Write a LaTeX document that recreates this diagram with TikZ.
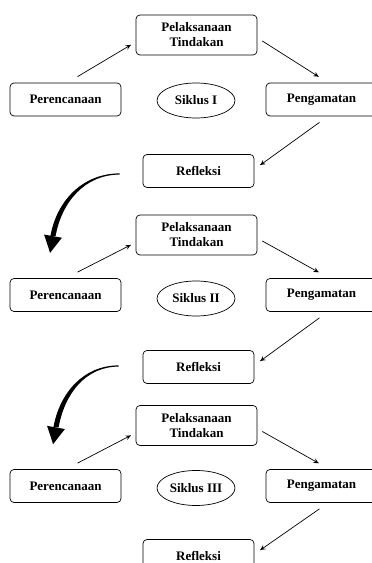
\documentclass[tikz,border=0pt]{standalone}
\usepackage{fontspec}
\setmainfont{Liberation Serif}
\usetikzlibrary{shapes.geometric,
                 decorations.markings}
\newcommand{\lbl}{\fontsize{13}{15}\selectfont\bfseries}
\tikzset{box/.style = {draw, rounded corners = 4, minimum width = 111, minimum height = 33, inner sep = 2, font = \lbl, line width = 0.7}}
\tikzset{act/.style = {box, minimum width = 121, minimum height = 40, align = center}}
\tikzset{cyc/.style = {draw, ellipse, minimum width = 78, minimum height = 35, inner sep = 0, font = \lbl, line width = 0.7}}
\tikzset{flow/.style = {line width = 0.7, decoration={markings, mark=at position 1 with {\arrow[scale=1.3]{stealth}}}, postaction={decorate}}}

\begin{document}
\begin{tikzpicture}[x = 1pt, y = 1pt]
    \useasboundingbox (0,0) rectangle (372,563);
    % siklus I
    \node [act] (pel1) at (196.5,528) {Pelaksanaan\\Tindakan};
    \node [box] (ren1) at (65.5,463.5) {Perencanaan};
    \node [cyc] (sik1) at (196,462.5) {Siklus I};
    \node [box] (pen1) at (321.5,463.5) {Pengamatan};
    \node [box] (ref1) at (198.5,392) {Refleksi};
    \draw [flow] ([xshift=12pt,yshift=6pt]ren1.north) -- ([xshift=-5pt,yshift=-10pt]pel1.west);
    \draw [flow] ([xshift=5pt,yshift=-6pt]pel1.east) -- ([xshift=-3pt,yshift=6pt]pen1.north);
    \draw [flow] ([xshift=-2pt,yshift=-6pt]pen1.south) -- ([xshift=6pt,yshift=6pt]ref1.east);
    % siklus II
    \node [act] (pel2) at (196.5,328) {Pelaksanaan\\Tindakan};
    \node [box] (ren2) at (65.5,268) {Perencanaan};
    \node [cyc] (sik2) at (196,264.5) {Siklus II};
    \node [box] (pen2) at (321.5,268) {Pengamatan};
    \node [box] (ref2) at (198.5,196) {Refleksi};
    \draw [flow] ([xshift=12pt,yshift=6pt]ren2.north) -- ([xshift=-5pt,yshift=-10pt]pel2.west);
    \draw [flow] ([xshift=5pt,yshift=-6pt]pel2.east) -- ([xshift=-3pt,yshift=6pt]pen2.north);
    \draw [flow] ([xshift=-2pt,yshift=-6pt]pen2.south) -- ([xshift=6pt,yshift=6pt]ref2.east);
    % siklus III
    \node [act] (pel3) at (196.5,137.5) {Pelaksanaan\\Tindakan};
    \node [box] (ren3) at (65.5,77) {Perencanaan};
    \node [cyc] (sik3) at (196,75) {Siklus III};
    \node [box] (pen3) at (321.5,77) {Pengamatan};
    \node [box] (ref3) at (198.5,7) {Refleksi};
    \draw [flow] ([xshift=12pt,yshift=6pt]ren3.north) -- ([xshift=-5pt,yshift=-10pt]pel3.west);
    \draw [flow] ([xshift=5pt,yshift=-6pt]pel3.east) -- ([xshift=-3pt,yshift=6pt]pen3.north);
    \draw [flow] ([xshift=-2pt,yshift=-6pt]pen3.south) -- ([xshift=6pt,yshift=6pt]ref3.east);
    % ke siklus berikutnya
    \coordinate (a1) at ([shift={(-23pt,-3pt)}]ref1.west);
    \coordinate (b1) at ([shift={(-12.5pt,42pt)}]ren2.north);
    \fill ([yshift=0.6pt]a1) to [out=180, in=80] ([xshift=-2.6pt]b1) -- ([xshift=2.6pt]b1) to [out=80, in=180] ([yshift=-0.6pt]a1) -- cycle;
    \fill ([shift={(-8.9pt,1.6pt)}]b1) -- ([shift={(-2.9pt,-16.7pt)}]b1) -- ([shift={(8.9pt,-1.6pt)}]b1) -- cycle;
    \coordinate (a2) at ([shift={(-24pt,1pt)}]ref2.west);
    \coordinate (b2) at ([shift={(-9.5pt,41.7pt)}]ren3.north);
    \fill ([yshift=0.6pt]a2) to [out=180, in=80] ([xshift=-2.6pt]b2) -- ([xshift=2.6pt]b2) to [out=80, in=180] ([yshift=-0.6pt]a2) -- cycle;
    \fill ([shift={(-8.9pt,1.6pt)}]b2) -- ([shift={(-2.9pt,-16.7pt)}]b2) -- ([shift={(8.9pt,-1.6pt)}]b2) -- cycle;
\end{tikzpicture}
\end{document}
